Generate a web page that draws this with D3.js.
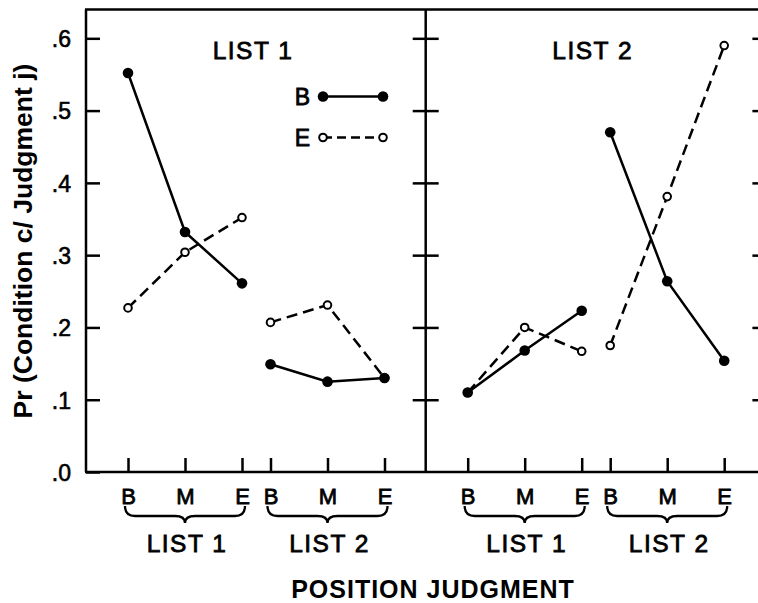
<!DOCTYPE html>
<html><head><meta charset="utf-8">
<script src="https://cdn.jsdelivr.net/npm/d3@7"></script>
<style>body{margin:0;background:#fff;} svg{display:block;font-family:"Liberation Sans",Arial,sans-serif;}</style>
</head><body><svg id="c" width="758" height="603"></svg>
<script>
// ---- data ----
const positions = ["B", "M", "E"];            // position judgment within a list
const groups = ["LIST 1", "LIST 2"];           // list groups along the x axis
const panels = ["LIST 1", "LIST 2"];           // panel titles (condition list)
const seriesNames = ["B", "E"];                // legend entries
// values: List1 B,M,E then List2 B,M,E
const panel1B = [0.552, 0.332, 0.261, 0.149, 0.125, 0.130];
const panel1E = [0.227, 0.304, 0.352, 0.207, 0.231, 0.130];
const panel2B = [0.110, 0.168, 0.223, 0.470, 0.264, 0.154];
const panel2E = [0.110, 0.200, 0.167, 0.175, 0.381, 0.590];
const yTicks = [0, 0.1, 0.2, 0.3, 0.4, 0.5, 0.6];
const yTickLabels = [".0", ".1", ".2", ".3", ".4", ".5", ".6"];
const yTitle = "Pr (Condition c/ Judgment j)";
const xTitle = "POSITION JUDGMENT";

// ---- layout ----
const svg = d3.select("#c");
const mL = 86, mT = 9.4, mB = 472, pw = 339.7;
const mR = mL + 2 * pw;
const y = d3.scaleLinear().domain([0, 0.64]).range([mB, mT]);
const x = d3.scaleLinear().domain([0, 4.5]).range([42, 298.5]);
const slots = [];
groups.forEach((g, gi) => positions.forEach((p, pi) => slots.push({u: gi * 2.5 + pi, label: p})));

const data = [[panel1B, panel1E], [panel2B, panel2E]];
const SW = 2.5;

// frame
const frame = svg.append("g").attr("stroke", "#000").attr("stroke-width", SW).attr("fill", "none");
frame.append("line").attr("x1", mL).attr("x2", mL).attr("y1", mT).attr("y2", mB);
frame.append("line").attr("x1", mL - 1).attr("x2", mR + 5).attr("y1", mT).attr("y2", mT);
frame.append("line").attr("x1", mL - 1).attr("x2", mR + 5).attr("y1", mB).attr("y2", mB);
frame.append("line").attr("x1", mL + pw).attr("x2", mL + pw).attr("y1", mT).attr("y2", mB);
frame.append("line").attr("x1", mR).attr("x2", mR).attr("y1", mT).attr("y2", mB);

// y axis (left, labelled, ticks inward)
const yAx = svg.append("g").attr("transform", `translate(${mL},0)`)
  .call(d3.axisLeft(y).tickValues(yTicks).tickFormat((d, i) => yTickLabels[i])
    .tickSizeInner(-14).tickSizeOuter(0).tickPadding(15));
yAx.select(".domain").remove();
yAx.selectAll("line").attr("stroke-width", SW);
yAx.selectAll("text").attr("font-size", 23).attr("font-family", "Liberation Sans").attr("fill", "#000")
  .attr("stroke", "#000").attr("stroke-width", 0.6).attr("dy", "0.36em");

// divider ticks (both sides) and right edge ticks
[[mL + pw, d3.axisLeft], [mL + pw, d3.axisRight], [mR, d3.axisLeft]].forEach(([px, ax]) => {
  const g = svg.append("g").attr("transform", `translate(${px},0)`)
    .call(ax(y).tickValues(yTicks.slice(1)).tickFormat("").tickSizeInner(13).tickSizeOuter(0));
  g.select(".domain").remove();
  g.selectAll("line").attr("stroke-width", SW);
});

// y title
svg.append("text").attr("transform", "translate(31.5,241) rotate(-90)")
  .attr("text-anchor", "middle").attr("font-size", 26.5).attr("font-weight", "bold")
  .text(yTitle);

const line = d3.line().x(d => x(d.u)).y(d => y(d.v));

panels.forEach((title, k) => {
  const px = mL + k * pw;
  const g = svg.append("g").attr("transform", `translate(${px},0)`);

  // x axis
  const xa = g.append("g").attr("transform", `translate(0,${mB})`)
    .call(d3.axisBottom(x).tickValues(slots.map(s => s.u)).tickFormat((d, i) => slots[i].label)
      .tickSizeInner(-14).tickSizeOuter(0).tickPadding(16));
  xa.select(".domain").remove();
  xa.selectAll("line").attr("stroke-width", SW);
  xa.selectAll("text").attr("font-size", 22).attr("font-family", "Liberation Sans").attr("fill", "#000")
    .attr("stroke", "#000").attr("stroke-width", 0.8);

  // braces + group labels
  groups.forEach((gl, gi) => {
    const x0 = x(gi * 2.5) - 3, x1 = x(gi * 2.5 + 2) + 3, xm = (x0 + x1) / 2;
    const yt = 506, yh = 516, ym = 523;
    g.append("path")
      .attr("d", `M${x0},${yt} Q${x0},${yh} ${x0 + 10},${yh} L${xm - 10},${yh} Q${xm},${yh} ${xm},${ym} Q${xm},${yh} ${xm + 10},${yh} L${x1 - 10},${yh} Q${x1},${yh} ${x1},${yt}`)
      .attr("fill", "none").attr("stroke", "#000").attr("stroke-width", 2.3);
    g.append("text").attr("x", xm + 2).attr("y", 552).attr("text-anchor", "middle")
      .attr("font-size", 24.5).attr("letter-spacing", 1.5).attr("stroke", "#000").attr("stroke-width", 0.8)
      .text(gl);
  });

  // panel title
  g.append("text").attr("x", 167).attr("y", 59).attr("text-anchor", "middle")
    .attr("font-size", 24.5).attr("letter-spacing", 1.5).attr("stroke", "#000").attr("stroke-width", 0.8)
    .text(title);

  // series: E (dashed, open) first, then B (solid, filled)
  const [vb, ve] = data[k];
  const pe = ve.map((v, i) => ({u: slots[i].u, v}));
  const pb = vb.map((v, i) => ({u: slots[i].u, v}));
  [[0, 3], [3, 6]].forEach(([a, b]) => {
    g.append("path").attr("d", line(pe.slice(a, b))).attr("fill", "none").attr("stroke", "#000")
      .attr("stroke-width", SW).attr("stroke-dasharray", "11,6");
    g.append("path").attr("d", line(pb.slice(a, b))).attr("fill", "none").attr("stroke", "#000")
      .attr("stroke-width", SW);
  });
  g.selectAll(".oe").data(pe).join("circle").attr("class", "oe")
    .attr("cx", d => x(d.u)).attr("cy", d => y(d.v)).attr("r", 3.8)
    .attr("fill", "#fff").attr("stroke", "#000").attr("stroke-width", 2);
  g.selectAll(".fb").data(pb).join("circle").attr("class", "fb")
    .attr("cx", d => x(d.u)).attr("cy", d => y(d.v)).attr("r", 5.3).attr("fill", "#000");
});

// legend (left panel)
const lg = svg.append("g");
seriesNames.forEach((s, i) => {
  const ly = 96.5 + i * 41;
  lg.append("text").attr("x", 310).attr("y", ly + 8.5).attr("text-anchor", "end")
    .attr("font-size", 23).attr("stroke", "#000").attr("stroke-width", 0.8).text(s);
  lg.append("line").attr("x1", 323).attr("x2", 383).attr("y1", ly).attr("y2", ly)
    .attr("stroke", "#000").attr("stroke-width", SW).attr("stroke-dasharray", i ? "9,5" : null);
  [323, 383].forEach(cx => {
    lg.append("circle").attr("cx", cx).attr("cy", ly).attr("r", i ? 3.8 : 5.3)
      .attr("fill", i ? "#fff" : "#000").attr("stroke", i ? "#000" : "none").attr("stroke-width", 2);
  });
});

// x title
svg.append("text").attr("x", 433).attr("y", 598).attr("text-anchor", "middle")
  .attr("font-size", 25).attr("font-weight", "bold").attr("letter-spacing", 1).text(xTitle);
</script>
</body></html>
